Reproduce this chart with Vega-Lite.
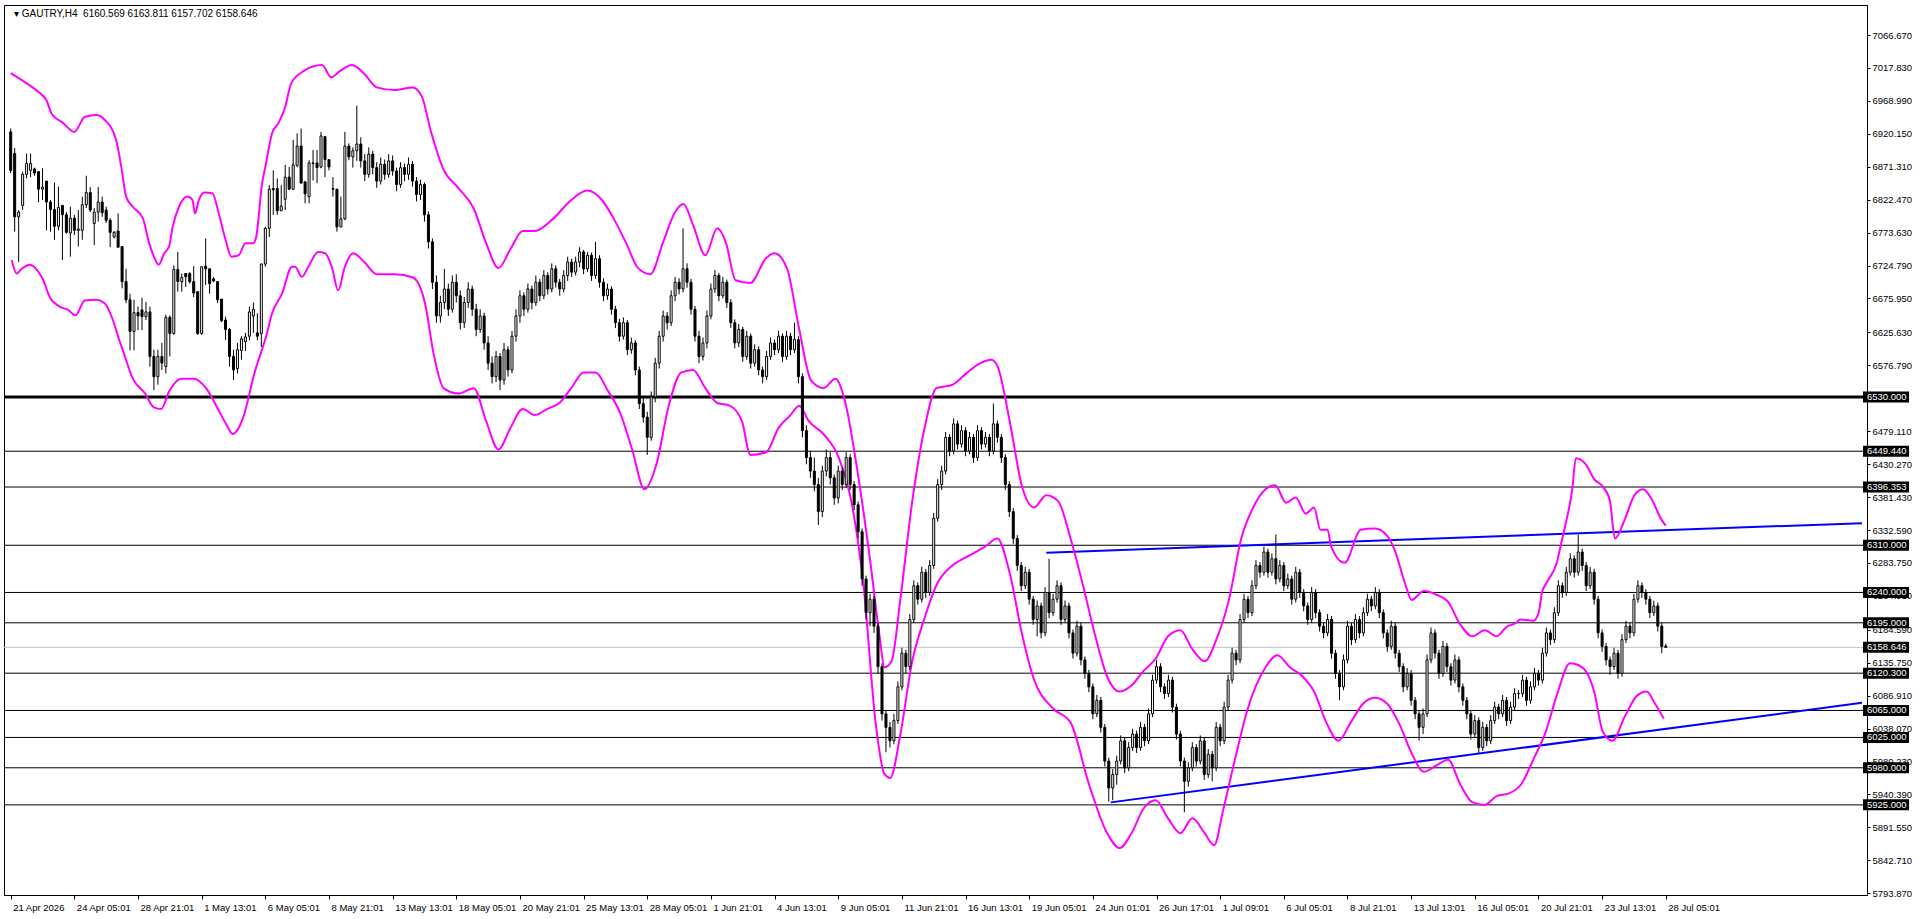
{
"$schema": "https://vega.github.io/schema/vega-lite/v6.json",
"width": 1863, "height": 890,
"autosize": {"type": "none"},
"padding": {"left": 4, "top": 5, "right": 53, "bottom": 24},
"background": "white",
"config": {
  "view": {"stroke": "black", "strokeWidth": 1},
  "axis": {"labelFont": "Liberation Sans", "labelFontSize": 9.5, "labelColor": "black", "tickColor": "black", "domainColor": "black", "grid": false, "labelOverlap": false, "labelFlush": false}
},
"datasets": {
"header": [{"t": "▾ GAUTRY,H4\u00a0\u00a06160.569 6163.811 6157.702 6158.646"}],
"levels": [
{"lv": 6530, "t": "6530.000", "k": "level"},
{"lv": 6449.44, "t": "6449.440", "k": "level"},
{"lv": 6396.353, "t": "6396.353", "k": "level"},
{"lv": 6310, "t": "6310.000", "k": "level"},
{"lv": 6240, "t": "6240.000", "k": "level"},
{"lv": 6195, "t": "6195.000", "k": "level"},
{"lv": 6158.646, "t": "6158.646", "k": "bid"},
{"lv": 6120.3, "t": "6120.300", "k": "level"},
{"lv": 6065, "t": "6065.000", "k": "level"},
{"lv": 6025, "t": "6025.000", "k": "level"},
{"lv": 5980, "t": "5980.000", "k": "level"},
{"lv": 5925, "t": "5925.000", "k": "level"}
],
"trend": [
{"x1": 260.3, "y1": 6299, "x2": 465.325, "y2": 6342.8},
{"x1": 276.5, "y1": 5928.7, "x2": 465.325, "y2": 6076.3}
],
"bands": [
{"b":"u","i":0,"v":7010},{"b":"u","i":4,"v":6995},{"b":"u","i":7,"v":6982},{"b":"u","i":9,"v":6970},{"b":"u","i":10.3,"v":6950},{"b":"u","i":13.2,"v":6936},{"b":"u","i":16,"v":6923},{"b":"u","i":18.6,"v":6945},{"b":"u","i":21.5,"v":6948},{"b":"u","i":23.6,"v":6941},{"b":"u","i":26.5,"v":6911},{"b":"u","i":27.8,"v":6871},{"b":"u","i":29,"v":6827},{"b":"u","i":30.7,"v":6812},{"b":"u","i":33.2,"v":6795},{"b":"u","i":34.8,"v":6758},{"b":"u","i":36,"v":6738},{"b":"u","i":37.2,"v":6726},{"b":"u","i":38.6,"v":6743},{"b":"u","i":39.8,"v":6753},{"b":"u","i":40.7,"v":6782},{"b":"u","i":42.3,"v":6812},{"b":"u","i":44.4,"v":6827},{"b":"u","i":45.7,"v":6822},{"b":"u","i":46.3,"v":6802},{"b":"u","i":47.3,"v":6822},{"b":"u","i":48.6,"v":6833},{"b":"u","i":50.7,"v":6832},{"b":"u","i":52.3,"v":6802},{"b":"u","i":54,"v":6763},{"b":"u","i":55.5,"v":6738},{"b":"u","i":57.3,"v":6740},{"b":"u","i":59,"v":6758},{"b":"u","i":61,"v":6758},{"b":"u","i":61.7,"v":6767},{"b":"u","i":63.2,"v":6847},{"b":"u","i":64,"v":6871},{"b":"u","i":65.7,"v":6921},{"b":"u","i":67.3,"v":6936},{"b":"u","i":69,"v":6960},{"b":"u","i":70.5,"v":6995},{"b":"u","i":73.6,"v":7013},{"b":"u","i":78.2,"v":7022},{"b":"u","i":80.6,"v":7004},{"b":"u","i":82.7,"v":7013},{"b":"u","i":85.8,"v":7022},{"b":"u","i":88.9,"v":7009},{"b":"u","i":92,"v":6989},{"b":"u","i":96.5,"v":6985},{"b":"u","i":101,"v":6989},{"b":"u","i":103.3,"v":6976},{"b":"u","i":105.7,"v":6922},{"b":"u","i":108.8,"v":6867},{"b":"u","i":112.5,"v":6840},{"b":"u","i":116.4,"v":6809},{"b":"u","i":119.5,"v":6758},{"b":"u","i":122.6,"v":6721},{"b":"u","i":125.6,"v":6749},{"b":"u","i":128.7,"v":6776},{"b":"u","i":131.7,"v":6776},{"b":"u","i":136.3,"v":6794},{"b":"u","i":140.9,"v":6822},{"b":"u","i":144.9,"v":6836},{"b":"u","i":148.6,"v":6822},{"b":"u","i":151.6,"v":6794},{"b":"u","i":154.7,"v":6758},{"b":"u","i":157.7,"v":6721},{"b":"u","i":160.8,"v":6712},{"b":"u","i":163.9,"v":6758},{"b":"u","i":166.9,"v":6803},{"b":"u","i":169.1,"v":6816},{"b":"u","i":171.5,"v":6785},{"b":"u","i":174.6,"v":6740},{"b":"u","i":177.6,"v":6780},{"b":"u","i":179.8,"v":6758},{"b":"u","i":182.2,"v":6703},{"b":"u","i":185.9,"v":6699},{"b":"u","i":189.9,"v":6736},{"b":"u","i":192,"v":6743},{"b":"u","i":195.1,"v":6721},{"b":"u","i":198.2,"v":6630},{"b":"u","i":201.2,"v":6554},{"b":"u","i":204.3,"v":6543},{"b":"u","i":207.3,"v":6557},{"b":"u","i":209.8,"v":6521},{"b":"u","i":212.8,"v":6421},{"b":"u","i":215.9,"v":6293},{"b":"u","i":218.4,"v":6175},{"b":"u","i":219.6,"v":6129},{"b":"u","i":221.4,"v":6138},{"b":"u","i":223.6,"v":6229},{"b":"u","i":226.6,"v":6375},{"b":"u","i":229.7,"v":6484},{"b":"u","i":232.7,"v":6543},{"b":"u","i":236.7,"v":6548},{"b":"u","i":240.4,"v":6566},{"b":"u","i":243.4,"v":6579},{"b":"u","i":246.5,"v":6585},{"b":"u","i":248,"v":6576},{"b":"u","i":251.1,"v":6494},{"b":"u","i":254.2,"v":6397},{"b":"u","i":257.2,"v":6366},{"b":"u","i":260.3,"v":6384},{"b":"u","i":263.3,"v":6375},{"b":"u","i":266.4,"v":6320},{"b":"u","i":269.5,"v":6251},{"b":"u","i":272.5,"v":6178},{"b":"u","i":275.6,"v":6115},{"b":"u","i":278.7,"v":6093},{"b":"u","i":281.7,"v":6102},{"b":"u","i":284.8,"v":6124},{"b":"u","i":287.8,"v":6142},{"b":"u","i":290.9,"v":6175},{"b":"u","i":294,"v":6184},{"b":"u","i":297,"v":6156},{"b":"u","i":300.1,"v":6138},{"b":"u","i":303.1,"v":6171},{"b":"u","i":306.2,"v":6229},{"b":"u","i":309.3,"v":6320},{"b":"u","i":312.3,"v":6366},{"b":"u","i":315.4,"v":6393},{"b":"u","i":317.8,"v":6399},{"b":"u","i":320.6,"v":6373},{"b":"u","i":323,"v":6381},{"b":"u","i":325.5,"v":6357},{"b":"u","i":327.6,"v":6366},{"b":"u","i":329.2,"v":6333},{"b":"u","i":331,"v":6333},{"b":"u","i":331.9,"v":6308},{"b":"u","i":335.3,"v":6284},{"b":"u","i":339.3,"v":6333},{"b":"u","i":342.9,"v":6335},{"b":"u","i":346,"v":6324},{"b":"u","i":347.8,"v":6304},{"b":"u","i":350.6,"v":6251},{"b":"u","i":352.1,"v":6229},{"b":"u","i":355.2,"v":6242},{"b":"u","i":358.2,"v":6237},{"b":"u","i":361.3,"v":6226},{"b":"u","i":364.3,"v":6193},{"b":"u","i":367.4,"v":6175},{"b":"u","i":370.5,"v":6184},{"b":"u","i":373.5,"v":6175},{"b":"u","i":376,"v":6189},{"b":"u","i":378.4,"v":6195},{"b":"u","i":379.4,"v":6200},{"b":"u","i":382.7,"v":6198},{"b":"u","i":384,"v":6209},{"b":"u","i":384.9,"v":6240},{"b":"u","i":386.1,"v":6255},{"b":"u","i":388.6,"v":6284},{"b":"u","i":389.8,"v":6315},{"b":"u","i":391,"v":6346},{"b":"u","i":392.5,"v":6393},{"b":"u","i":393.4,"v":6439},{"b":"u","i":395.9,"v":6430},{"b":"u","i":398,"v":6408},{"b":"u","i":400.2,"v":6397},{"b":"u","i":402,"v":6375},{"b":"u","i":403.2,"v":6320},{"b":"u","i":405.7,"v":6348},{"b":"u","i":408.1,"v":6384},{"b":"u","i":410.3,"v":6393},{"b":"u","i":412.4,"v":6379},{"b":"u","i":414.9,"v":6348},{"b":"u","i":416,"v":6339},
{"b":"l","i":0.25,"v":6733},{"b":"l","i":1.5,"v":6713},{"b":"l","i":2.75,"v":6720},{"b":"l","i":4.8,"v":6726},{"b":"l","i":6.9,"v":6716},{"b":"l","i":8.2,"v":6703},{"b":"l","i":9.8,"v":6678},{"b":"l","i":12.3,"v":6664},{"b":"l","i":14.4,"v":6659},{"b":"l","i":16.3,"v":6651},{"b":"l","i":18.6,"v":6673},{"b":"l","i":21.5,"v":6674},{"b":"l","i":23.6,"v":6669},{"b":"l","i":25.7,"v":6644},{"b":"l","i":27.3,"v":6614},{"b":"l","i":28.2,"v":6599},{"b":"l","i":30.7,"v":6557},{"b":"l","i":33.8,"v":6535},{"b":"l","i":35.9,"v":6515},{"b":"l","i":37.8,"v":6512},{"b":"l","i":39.9,"v":6539},{"b":"l","i":42.9,"v":6557},{"b":"l","i":46,"v":6557},{"b":"l","i":49.1,"v":6543},{"b":"l","i":52.1,"v":6512},{"b":"l","i":54.3,"v":6488},{"b":"l","i":55.8,"v":6475},{"b":"l","i":58.3,"v":6497},{"b":"l","i":61.3,"v":6566},{"b":"l","i":64.4,"v":6624},{"b":"l","i":65.7,"v":6654},{"b":"l","i":68.2,"v":6683},{"b":"l","i":70.7,"v":6723},{"b":"l","i":71.5,"v":6723},{"b":"l","i":73.2,"v":6708},{"b":"l","i":74.8,"v":6723},{"b":"l","i":77.3,"v":6745},{"b":"l","i":79,"v":6743},{"b":"l","i":80.7,"v":6723},{"b":"l","i":82.3,"v":6688},{"b":"l","i":84,"v":6723},{"b":"l","i":86.1,"v":6743},{"b":"l","i":88.9,"v":6730},{"b":"l","i":92,"v":6712},{"b":"l","i":96.5,"v":6712},{"b":"l","i":101.1,"v":6707},{"b":"l","i":104.2,"v":6667},{"b":"l","i":106.3,"v":6594},{"b":"l","i":108.8,"v":6543},{"b":"l","i":112.5,"v":6535},{"b":"l","i":116.4,"v":6543},{"b":"l","i":119.5,"v":6494},{"b":"l","i":122.6,"v":6452},{"b":"l","i":125.6,"v":6484},{"b":"l","i":128.7,"v":6512},{"b":"l","i":131.7,"v":6503},{"b":"l","i":134.8,"v":6512},{"b":"l","i":137.9,"v":6521},{"b":"l","i":140.9,"v":6543},{"b":"l","i":144,"v":6566},{"b":"l","i":147,"v":6566},{"b":"l","i":150.1,"v":6539},{"b":"l","i":153.2,"v":6506},{"b":"l","i":156.2,"v":6452},{"b":"l","i":159.3,"v":6393},{"b":"l","i":162.3,"v":6430},{"b":"l","i":165.4,"v":6517},{"b":"l","i":168.5,"v":6566},{"b":"l","i":171.5,"v":6570},{"b":"l","i":174.6,"v":6543},{"b":"l","i":177.6,"v":6521},{"b":"l","i":180.7,"v":6517},{"b":"l","i":183.8,"v":6494},{"b":"l","i":185.9,"v":6444},{"b":"l","i":189.9,"v":6448},{"b":"l","i":193,"v":6484},{"b":"l","i":196,"v":6503},{"b":"l","i":198.2,"v":6517},{"b":"l","i":200.6,"v":6494},{"b":"l","i":204.3,"v":6475},{"b":"l","i":208.2,"v":6439},{"b":"l","i":211.3,"v":6375},{"b":"l","i":214.4,"v":6248},{"b":"l","i":217.4,"v":6047},{"b":"l","i":219.6,"v":5971},{"b":"l","i":221.1,"v":5965},{"b":"l","i":223.6,"v":6029},{"b":"l","i":226.6,"v":6138},{"b":"l","i":229.7,"v":6202},{"b":"l","i":232.7,"v":6251},{"b":"l","i":236.7,"v":6280},{"b":"l","i":240.4,"v":6293},{"b":"l","i":244.9,"v":6308},{"b":"l","i":248,"v":6320},{"b":"l","i":251.1,"v":6269},{"b":"l","i":254.2,"v":6178},{"b":"l","i":257.2,"v":6111},{"b":"l","i":261.8,"v":6069},{"b":"l","i":266.4,"v":6047},{"b":"l","i":271,"v":5956},{"b":"l","i":275.6,"v":5883},{"b":"l","i":278.7,"v":5861},{"b":"l","i":281.7,"v":5883},{"b":"l","i":284.8,"v":5920},{"b":"l","i":287.8,"v":5932},{"b":"l","i":290.9,"v":5905},{"b":"l","i":294,"v":5883},{"b":"l","i":297,"v":5905},{"b":"l","i":300.1,"v":5883},{"b":"l","i":302.5,"v":5865},{"b":"l","i":304.7,"v":5916},{"b":"l","i":307.7,"v":5992},{"b":"l","i":310.8,"v":6065},{"b":"l","i":315.4,"v":6129},{"b":"l","i":318.4,"v":6147},{"b":"l","i":321.5,"v":6129},{"b":"l","i":324.6,"v":6116},{"b":"l","i":327.6,"v":6093},{"b":"l","i":330.7,"v":6047},{"b":"l","i":333.7,"v":6020},{"b":"l","i":336.8,"v":6047},{"b":"l","i":339.9,"v":6075},{"b":"l","i":342.9,"v":6084},{"b":"l","i":346,"v":6075},{"b":"l","i":349.1,"v":6044},{"b":"l","i":352.1,"v":6002},{"b":"l","i":355.2,"v":5974},{"b":"l","i":358.2,"v":5983},{"b":"l","i":361.3,"v":5992},{"b":"l","i":364.3,"v":5956},{"b":"l","i":367.4,"v":5929},{"b":"l","i":370.5,"v":5925},{"b":"l","i":373.5,"v":5938},{"b":"l","i":376.6,"v":5942},{"b":"l","i":379.7,"v":5956},{"b":"l","i":382.7,"v":5992},{"b":"l","i":385.8,"v":6033},{"b":"l","i":388.9,"v":6093},{"b":"l","i":391.9,"v":6135},{"b":"l","i":395,"v":6129},{"b":"l","i":398,"v":6093},{"b":"l","i":400.2,"v":6033},{"b":"l","i":402.6,"v":6020},{"b":"l","i":405.7,"v":6056},{"b":"l","i":408.8,"v":6087},{"b":"l","i":411.2,"v":6093},{"b":"l","i":413.3,"v":6075},{"b":"l","i":415.5,"v":6053}
],
"candles": [
{"i":0,"o":6923,"h":6928,"l":6862,"c":6866},{"i":1,"o":6891,"h":6899,"l":6775,"c":6797},{"i":2,"o":6797,"h":6807,"l":6730,"c":6804},{"i":3,"o":6814,"h":6864,"l":6807,"c":6860},{"i":4,"o":6860,"h":6891,"l":6854,"c":6876},{"i":5,"o":6866,"h":6891,"l":6856,"c":6876},{"i":6,"o":6868,"h":6870,"l":6858,"c":6862},{"i":7,"o":6864,"h":6864,"l":6819,"c":6838},{"i":8,"o":6838,"h":6869,"l":6822,"c":6841},{"i":9,"o":6850,"h":6850,"l":6777,"c":6819},
{"i":10,"o":6819,"h":6822,"l":6775,"c":6808},{"i":11,"o":6808,"h":6848,"l":6763,"c":6783},{"i":12,"o":6783,"h":6842,"l":6777,"c":6811},{"i":13,"o":6814,"h":6814,"l":6733,"c":6800},{"i":14,"o":6800,"h":6804,"l":6772,"c":6774},{"i":15,"o":6773,"h":6812,"l":6738,"c":6795},{"i":16,"o":6795,"h":6800,"l":6770,"c":6777},{"i":17,"o":6777,"h":6807,"l":6753,"c":6779},{"i":18,"o":6777,"h":6827,"l":6763,"c":6815},{"i":19,"o":6815,"h":6858,"l":6810,"c":6833},
{"i":20,"o":6833,"h":6841,"l":6804,"c":6807},{"i":21,"o":6787,"h":6810,"l":6755,"c":6804},{"i":22,"o":6804,"h":6841,"l":6790,"c":6819},{"i":23,"o":6819,"h":6827,"l":6797,"c":6803},{"i":24,"o":6807,"h":6812,"l":6788,"c":6792},{"i":25,"o":6792,"h":6795,"l":6752,"c":6774},{"i":26,"o":6767,"h":6776,"l":6765,"c":6774},{"i":27,"o":6776,"h":6802,"l":6752,"c":6752},{"i":28,"o":6753,"h":6753,"l":6691,"c":6701},{"i":29,"o":6701,"h":6720,"l":6669,"c":6674},
{"i":30,"o":6674,"h":6683,"l":6599,"c":6627},{"i":31,"o":6627,"h":6674,"l":6599,"c":6655},{"i":32,"o":6655,"h":6664,"l":6629,"c":6650},{"i":33,"o":6659,"h":6677,"l":6629,"c":6649},{"i":34,"o":6649,"h":6671,"l":6644,"c":6656},{"i":35,"o":6656,"h":6664,"l":6575,"c":6590},{"i":36,"o":6590,"h":6600,"l":6540,"c":6560},{"i":37,"o":6560,"h":6600,"l":6548,"c":6590},{"i":38,"o":6590,"h":6610,"l":6570,"c":6580},{"i":39,"o":6575,"h":6652,"l":6565,"c":6648},
{"i":40,"o":6648,"h":6651,"l":6590,"c":6624},{"i":41,"o":6624,"h":6725,"l":6622,"c":6719},{"i":42,"o":6719,"h":6745,"l":6686,"c":6701},{"i":43,"o":6701,"h":6713,"l":6686,"c":6707},{"i":44,"o":6713,"h":6713,"l":6693,"c":6708},{"i":45,"o":6713,"h":6715,"l":6698,"c":6701},{"i":46,"o":6701,"h":6724,"l":6678,"c":6684},{"i":47,"o":6686,"h":6686,"l":6622,"c":6624},{"i":48,"o":6624,"h":6723,"l":6622,"c":6723},{"i":49,"o":6724,"h":6765,"l":6696,"c":6720},
{"i":50,"o":6720,"h":6720,"l":6683,"c":6698},{"i":51,"o":6705,"h":6708,"l":6700,"c":6702},{"i":52,"o":6701,"h":6701,"l":6669,"c":6674},{"i":53,"o":6675,"h":6675,"l":6641,"c":6643},{"i":54,"o":6644,"h":6649,"l":6614,"c":6630},{"i":55,"o":6630,"h":6632,"l":6575,"c":6590},{"i":56,"o":6590,"h":6600,"l":6555,"c":6570},{"i":57,"o":6572,"h":6610,"l":6565,"c":6600},{"i":58,"o":6599,"h":6620,"l":6585,"c":6616},{"i":59,"o":6612,"h":6625,"l":6598,"c":6619},
{"i":60,"o":6620,"h":6664,"l":6614,"c":6656},{"i":61,"o":6650,"h":6670,"l":6625,"c":6660},{"i":62,"o":6625,"h":6654,"l":6614,"c":6620},{"i":63,"o":6624,"h":6728,"l":6604,"c":6727},{"i":64,"o":6727,"h":6782,"l":6723,"c":6780},{"i":65,"o":6780,"h":6844,"l":6767,"c":6838},{"i":66,"o":6839,"h":6866,"l":6800,"c":6837},{"i":67,"o":6839,"h":6854,"l":6800,"c":6806},{"i":68,"o":6806,"h":6844,"l":6807,"c":6813},{"i":69,"o":6823,"h":6874,"l":6807,"c":6856},
{"i":70,"o":6856,"h":6871,"l":6837,"c":6838},{"i":71,"o":6838,"h":6911,"l":6837,"c":6874},{"i":72,"o":6873,"h":6921,"l":6871,"c":6902},{"i":73,"o":6902,"h":6928,"l":6847,"c":6847},{"i":74,"o":6849,"h":6849,"l":6817,"c":6831},{"i":75,"o":6827,"h":6881,"l":6817,"c":6877},{"i":76,"o":6876,"h":6896,"l":6851,"c":6877},{"i":77,"o":6877,"h":6896,"l":6847,"c":6870},{"i":78,"o":6871,"h":6923,"l":6869,"c":6917},{"i":79,"o":6916,"h":6916,"l":6856,"c":6882},
{"i":80,"o":6882,"h":6882,"l":6866,"c":6871},{"i":81,"o":6839,"h":6856,"l":6827,"c":6838},{"i":82,"o":6838,"h":6838,"l":6775,"c":6782},{"i":83,"o":6782,"h":6827,"l":6782,"c":6794},{"i":84,"o":6794,"h":6923,"l":6792,"c":6902},{"i":85,"o":6902,"h":6906,"l":6881,"c":6886},{"i":86,"o":6886,"h":6900,"l":6870,"c":6895},{"i":87,"o":6895,"h":6962,"l":6880,"c":6905},{"i":88,"o":6905,"h":6915,"l":6870,"c":6880},{"i":89,"o":6880,"h":6890,"l":6850,"c":6860},
{"i":90,"o":6860,"h":6900,"l":6855,"c":6890},{"i":91,"o":6890,"h":6895,"l":6860,"c":6870},{"i":92,"o":6870,"h":6878,"l":6840,"c":6850},{"i":93,"o":6850,"h":6885,"l":6845,"c":6875},{"i":94,"o":6875,"h":6882,"l":6852,"c":6860},{"i":95,"o":6860,"h":6890,"l":6855,"c":6880},{"i":96,"o":6880,"h":6888,"l":6858,"c":6865},{"i":97,"o":6865,"h":6870,"l":6835,"c":6845},{"i":98,"o":6845,"h":6878,"l":6840,"c":6870},{"i":99,"o":6870,"h":6876,"l":6850,"c":6860},
{"i":100,"o":6860,"h":6885,"l":6852,"c":6875},{"i":101,"o":6875,"h":6880,"l":6842,"c":6850},{"i":102,"o":6850,"h":6856,"l":6820,"c":6830},{"i":103,"o":6830,"h":6852,"l":6822,"c":6845},{"i":104,"o":6845,"h":6848,"l":6790,"c":6800},{"i":105,"o":6800,"h":6805,"l":6750,"c":6760},{"i":106,"o":6760,"h":6765,"l":6690,"c":6700},{"i":107,"o":6700,"h":6710,"l":6640,"c":6650},{"i":108,"o":6650,"h":6680,"l":6640,"c":6670},{"i":109,"o":6670,"h":6720,"l":6660,"c":6690},
{"i":110,"o":6690,"h":6698,"l":6650,"c":6660},{"i":111,"o":6660,"h":6710,"l":6655,"c":6700},{"i":112,"o":6700,"h":6712,"l":6670,"c":6680},{"i":113,"o":6680,"h":6688,"l":6630,"c":6640},{"i":114,"o":6640,"h":6678,"l":6632,"c":6670},{"i":115,"o":6670,"h":6700,"l":6662,"c":6690},{"i":116,"o":6690,"h":6695,"l":6650,"c":6660},{"i":117,"o":6660,"h":6668,"l":6620,"c":6630},{"i":118,"o":6630,"h":6660,"l":6625,"c":6650},{"i":119,"o":6650,"h":6655,"l":6600,"c":6610},
{"i":120,"o":6610,"h":6620,"l":6570,"c":6580},{"i":121,"o":6580,"h":6590,"l":6550,"c":6560},{"i":122,"o":6560,"h":6598,"l":6552,"c":6590},{"i":123,"o":6590,"h":6595,"l":6540,"c":6555},{"i":124,"o":6555,"h":6610,"l":6548,"c":6600},{"i":125,"o":6600,"h":6605,"l":6560,"c":6570},{"i":126,"o":6570,"h":6628,"l":6565,"c":6620},{"i":127,"o":6620,"h":6660,"l":6612,"c":6650},{"i":128,"o":6650,"h":6688,"l":6640,"c":6680},{"i":129,"o":6680,"h":6685,"l":6650,"c":6660},
{"i":130,"o":6660,"h":6698,"l":6655,"c":6690},{"i":131,"o":6690,"h":6695,"l":6660,"c":6670},{"i":132,"o":6670,"h":6710,"l":6665,"c":6700},{"i":133,"o":6700,"h":6705,"l":6672,"c":6680},{"i":134,"o":6680,"h":6718,"l":6675,"c":6710},{"i":135,"o":6710,"h":6715,"l":6682,"c":6690},{"i":136,"o":6690,"h":6728,"l":6685,"c":6720},{"i":137,"o":6720,"h":6725,"l":6692,"c":6700},{"i":138,"o":6700,"h":6705,"l":6680,"c":6690},{"i":139,"o":6690,"h":6718,"l":6685,"c":6710},
{"i":140,"o":6710,"h":6738,"l":6702,"c":6730},{"i":141,"o":6730,"h":6735,"l":6708,"c":6715},{"i":142,"o":6715,"h":6738,"l":6710,"c":6730},{"i":143,"o":6730,"h":6752,"l":6722,"c":6745},{"i":144,"o":6745,"h":6748,"l":6712,"c":6720},{"i":145,"o":6720,"h":6745,"l":6715,"c":6740},{"i":146,"o":6740,"h":6744,"l":6702,"c":6710},{"i":147,"o":6710,"h":6760,"l":6705,"c":6735},{"i":148,"o":6735,"h":6740,"l":6692,"c":6700},{"i":149,"o":6700,"h":6706,"l":6672,"c":6680},
{"i":150,"o":6680,"h":6698,"l":6674,"c":6690},{"i":151,"o":6690,"h":6694,"l":6652,"c":6660},{"i":152,"o":6660,"h":6665,"l":6632,"c":6640},{"i":153,"o":6640,"h":6646,"l":6612,"c":6620},{"i":154,"o":6620,"h":6648,"l":6615,"c":6640},{"i":155,"o":6640,"h":6644,"l":6592,"c":6600},{"i":156,"o":6600,"h":6618,"l":6594,"c":6610},{"i":157,"o":6610,"h":6614,"l":6562,"c":6570},{"i":158,"o":6570,"h":6575,"l":6512,"c":6520},{"i":159,"o":6520,"h":6530,"l":6492,"c":6500},
{"i":160,"o":6500,"h":6508,"l":6444,"c":6470},{"i":161,"o":6470,"h":6538,"l":6465,"c":6530},{"i":162,"o":6530,"h":6588,"l":6522,"c":6580},{"i":163,"o":6580,"h":6628,"l":6572,"c":6620},{"i":164,"o":6620,"h":6658,"l":6612,"c":6650},{"i":165,"o":6650,"h":6656,"l":6630,"c":6640},{"i":166,"o":6640,"h":6688,"l":6635,"c":6680},{"i":167,"o":6680,"h":6708,"l":6672,"c":6700},{"i":168,"o":6700,"h":6706,"l":6682,"c":6690},{"i":169,"o":6690,"h":6780,"l":6685,"c":6720},
{"i":170,"o":6720,"h":6728,"l":6692,"c":6700},{"i":171,"o":6700,"h":6705,"l":6652,"c":6660},{"i":172,"o":6660,"h":6665,"l":6612,"c":6620},{"i":173,"o":6620,"h":6628,"l":6580,"c":6590},{"i":174,"o":6590,"h":6618,"l":6584,"c":6610},{"i":175,"o":6610,"h":6658,"l":6602,"c":6650},{"i":176,"o":6650,"h":6698,"l":6645,"c":6690},{"i":177,"o":6690,"h":6718,"l":6684,"c":6710},{"i":178,"o":6710,"h":6714,"l":6672,"c":6680},{"i":179,"o":6680,"h":6708,"l":6676,"c":6700},
{"i":180,"o":6700,"h":6704,"l":6662,"c":6670},{"i":181,"o":6670,"h":6675,"l":6632,"c":6640},{"i":182,"o":6640,"h":6645,"l":6602,"c":6610},{"i":183,"o":6610,"h":6638,"l":6604,"c":6630},{"i":184,"o":6630,"h":6634,"l":6582,"c":6590},{"i":185,"o":6590,"h":6628,"l":6585,"c":6620},{"i":186,"o":6620,"h":6624,"l":6572,"c":6580},{"i":187,"o":6580,"h":6608,"l":6575,"c":6600},{"i":188,"o":6600,"h":6605,"l":6562,"c":6570},{"i":189,"o":6570,"h":6575,"l":6550,"c":6560},
{"i":190,"o":6560,"h":6598,"l":6555,"c":6590},{"i":191,"o":6590,"h":6618,"l":6585,"c":6610},{"i":192,"o":6610,"h":6615,"l":6592,"c":6600},{"i":193,"o":6600,"h":6628,"l":6595,"c":6620},{"i":194,"o":6620,"h":6624,"l":6582,"c":6590},{"i":195,"o":6590,"h":6628,"l":6585,"c":6620},{"i":196,"o":6620,"h":6625,"l":6592,"c":6600},{"i":197,"o":6600,"h":6640,"l":6595,"c":6615},{"i":198,"o":6615,"h":6620,"l":6550,"c":6560},{"i":199,"o":6560,"h":6565,"l":6470,"c":6480},
{"i":200,"o":6480,"h":6488,"l":6430,"c":6440},{"i":201,"o":6440,"h":6450,"l":6410,"c":6420},{"i":202,"o":6420,"h":6440,"l":6390,"c":6400},{"i":203,"o":6400,"h":6410,"l":6340,"c":6360},{"i":204,"o":6360,"h":6428,"l":6352,"c":6420},{"i":205,"o":6420,"h":6452,"l":6412,"c":6440},{"i":206,"o":6440,"h":6448,"l":6400,"c":6410},{"i":207,"o":6410,"h":6415,"l":6370,"c":6380},{"i":208,"o":6380,"h":6428,"l":6372,"c":6420},{"i":209,"o":6420,"h":6425,"l":6392,"c":6400},
{"i":210,"o":6400,"h":6448,"l":6395,"c":6440},{"i":211,"o":6440,"h":6445,"l":6392,"c":6400},{"i":212,"o":6400,"h":6405,"l":6362,"c":6370},{"i":213,"o":6370,"h":6375,"l":6320,"c":6330},{"i":214,"o":6330,"h":6335,"l":6250,"c":6260},{"i":215,"o":6260,"h":6265,"l":6200,"c":6210},{"i":216,"o":6210,"h":6238,"l":6190,"c":6230},{"i":217,"o":6230,"h":6235,"l":6180,"c":6190},{"i":218,"o":6190,"h":6195,"l":6120,"c":6130},{"i":219,"o":6130,"h":6135,"l":6050,"c":6060},
{"i":220,"o":6060,"h":6065,"l":6003,"c":6040},{"i":221,"o":6040,"h":6048,"l":6010,"c":6020},{"i":222,"o":6020,"h":6060,"l":6015,"c":6050},{"i":223,"o":6050,"h":6108,"l":6045,"c":6100},{"i":224,"o":6100,"h":6158,"l":6095,"c":6150},{"i":225,"o":6150,"h":6155,"l":6120,"c":6130},{"i":226,"o":6130,"h":6208,"l":6125,"c":6200},{"i":227,"o":6200,"h":6258,"l":6195,"c":6250},{"i":228,"o":6250,"h":6255,"l":6222,"c":6230},{"i":229,"o":6230,"h":6278,"l":6225,"c":6270},
{"i":230,"o":6270,"h":6275,"l":6232,"c":6240},{"i":231,"o":6240,"h":6288,"l":6235,"c":6280},{"i":232,"o":6280,"h":6358,"l":6275,"c":6350},{"i":233,"o":6350,"h":6408,"l":6345,"c":6400},{"i":234,"o":6400,"h":6428,"l":6392,"c":6420},{"i":235,"o":6420,"h":6478,"l":6415,"c":6470},{"i":236,"o":6470,"h":6475,"l":6442,"c":6450},{"i":237,"o":6450,"h":6498,"l":6445,"c":6490},{"i":238,"o":6490,"h":6495,"l":6452,"c":6460},{"i":239,"o":6460,"h":6488,"l":6455,"c":6480},
{"i":240,"o":6480,"h":6485,"l":6442,"c":6450},{"i":241,"o":6450,"h":6478,"l":6445,"c":6470},{"i":242,"o":6470,"h":6475,"l":6432,"c":6440},{"i":243,"o":6440,"h":6488,"l":6435,"c":6480},{"i":244,"o":6480,"h":6485,"l":6452,"c":6460},{"i":245,"o":6460,"h":6478,"l":6455,"c":6470},{"i":246,"o":6470,"h":6475,"l":6442,"c":6450},{"i":247,"o":6450,"h":6520,"l":6445,"c":6490},{"i":248,"o":6490,"h":6495,"l":6462,"c":6470},{"i":249,"o":6470,"h":6475,"l":6432,"c":6440},
{"i":250,"o":6440,"h":6445,"l":6392,"c":6400},{"i":251,"o":6400,"h":6405,"l":6352,"c":6360},{"i":252,"o":6360,"h":6365,"l":6312,"c":6320},{"i":253,"o":6320,"h":6325,"l":6272,"c":6280},{"i":254,"o":6280,"h":6285,"l":6242,"c":6250},{"i":255,"o":6250,"h":6278,"l":6245,"c":6270},{"i":256,"o":6270,"h":6275,"l":6222,"c":6230},{"i":257,"o":6230,"h":6235,"l":6192,"c":6200},{"i":258,"o":6200,"h":6228,"l":6175,"c":6220},{"i":259,"o":6220,"h":6225,"l":6172,"c":6180},
{"i":260,"o":6180,"h":6248,"l":6175,"c":6240},{"i":261,"o":6240,"h":6290,"l":6202,"c":6210},{"i":262,"o":6210,"h":6238,"l":6205,"c":6230},{"i":263,"o":6230,"h":6258,"l":6225,"c":6250},{"i":264,"o":6250,"h":6255,"l":6192,"c":6200},{"i":265,"o":6200,"h":6228,"l":6195,"c":6220},{"i":266,"o":6220,"h":6225,"l":6172,"c":6180},{"i":267,"o":6180,"h":6185,"l":6142,"c":6150},{"i":268,"o":6150,"h":6198,"l":6145,"c":6190},{"i":269,"o":6190,"h":6195,"l":6132,"c":6140},
{"i":270,"o":6140,"h":6145,"l":6112,"c":6120},{"i":271,"o":6120,"h":6125,"l":6092,"c":6100},{"i":272,"o":6100,"h":6105,"l":6052,"c":6060},{"i":273,"o":6060,"h":6088,"l":6055,"c":6080},{"i":274,"o":6080,"h":6085,"l":6032,"c":6040},{"i":275,"o":6040,"h":6045,"l":5982,"c":5990},{"i":276,"o":5990,"h":5995,"l":5930,"c":5950},{"i":277,"o":5950,"h":5978,"l":5932,"c":5970},{"i":278,"o":5970,"h":5998,"l":5955,"c":5990},{"i":279,"o":5990,"h":6028,"l":5985,"c":6020},
{"i":280,"o":6020,"h":6025,"l":5972,"c":5980},{"i":281,"o":5980,"h":6018,"l":5975,"c":6010},{"i":282,"o":6010,"h":6038,"l":6005,"c":6030},{"i":283,"o":6030,"h":6035,"l":6002,"c":6010},{"i":284,"o":6010,"h":6048,"l":6005,"c":6040},{"i":285,"o":6040,"h":6045,"l":6012,"c":6020},{"i":286,"o":6020,"h":6068,"l":6015,"c":6060},{"i":287,"o":6060,"h":6118,"l":6055,"c":6110},{"i":288,"o":6110,"h":6140,"l":6105,"c":6130},{"i":289,"o":6130,"h":6135,"l":6092,"c":6100},
{"i":290,"o":6100,"h":6105,"l":6082,"c":6090},{"i":291,"o":6090,"h":6118,"l":6085,"c":6110},{"i":292,"o":6110,"h":6115,"l":6062,"c":6070},{"i":293,"o":6070,"h":6075,"l":6022,"c":6030},{"i":294,"o":6030,"h":6035,"l":5982,"c":5990},{"i":295,"o":5990,"h":5995,"l":5914,"c":5960},{"i":296,"o":5960,"h":5988,"l":5952,"c":5980},{"i":297,"o":5980,"h":6018,"l":5975,"c":6010},{"i":298,"o":6010,"h":6015,"l":5982,"c":5990},{"i":299,"o":5990,"h":6028,"l":5985,"c":6020},
{"i":300,"o":6020,"h":6025,"l":5962,"c":5970},{"i":301,"o":5970,"h":6008,"l":5965,"c":6000},{"i":302,"o":6000,"h":6005,"l":5960,"c":5980},{"i":303,"o":5980,"h":6048,"l":5975,"c":6040},{"i":304,"o":6040,"h":6045,"l":6012,"c":6020},{"i":305,"o":6020,"h":6078,"l":6015,"c":6070},{"i":306,"o":6070,"h":6118,"l":6065,"c":6110},{"i":307,"o":6110,"h":6158,"l":6105,"c":6150},{"i":308,"o":6150,"h":6155,"l":6132,"c":6140},{"i":309,"o":6140,"h":6208,"l":6135,"c":6200},
{"i":310,"o":6200,"h":6238,"l":6195,"c":6230},{"i":311,"o":6230,"h":6235,"l":6202,"c":6210},{"i":312,"o":6210,"h":6258,"l":6205,"c":6250},{"i":313,"o":6250,"h":6288,"l":6245,"c":6280},{"i":314,"o":6280,"h":6285,"l":6262,"c":6270},{"i":315,"o":6270,"h":6308,"l":6265,"c":6300},{"i":316,"o":6300,"h":6305,"l":6262,"c":6270},{"i":317,"o":6270,"h":6298,"l":6265,"c":6290},{"i":318,"o":6290,"h":6326,"l":6252,"c":6260},{"i":319,"o":6260,"h":6288,"l":6255,"c":6280},
{"i":320,"o":6280,"h":6285,"l":6242,"c":6250},{"i":321,"o":6250,"h":6268,"l":6245,"c":6260},{"i":322,"o":6260,"h":6265,"l":6222,"c":6230},{"i":323,"o":6230,"h":6278,"l":6225,"c":6270},{"i":324,"o":6270,"h":6275,"l":6232,"c":6240},{"i":325,"o":6240,"h":6245,"l":6212,"c":6220},{"i":326,"o":6220,"h":6225,"l":6192,"c":6200},{"i":327,"o":6200,"h":6248,"l":6195,"c":6240},{"i":328,"o":6240,"h":6245,"l":6202,"c":6210},{"i":329,"o":6210,"h":6215,"l":6182,"c":6190},
{"i":330,"o":6190,"h":6195,"l":6172,"c":6180},{"i":331,"o":6180,"h":6208,"l":6175,"c":6200},{"i":332,"o":6200,"h":6205,"l":6142,"c":6150},{"i":333,"o":6150,"h":6155,"l":6112,"c":6120},{"i":334,"o":6120,"h":6125,"l":6080,"c":6100},{"i":335,"o":6100,"h":6148,"l":6095,"c":6140},{"i":336,"o":6140,"h":6198,"l":6135,"c":6190},{"i":337,"o":6190,"h":6195,"l":6162,"c":6170},{"i":338,"o":6170,"h":6208,"l":6165,"c":6200},{"i":339,"o":6200,"h":6205,"l":6172,"c":6180},
{"i":340,"o":6180,"h":6218,"l":6175,"c":6210},{"i":341,"o":6210,"h":6238,"l":6205,"c":6230},{"i":342,"o":6230,"h":6235,"l":6212,"c":6220},{"i":343,"o":6220,"h":6248,"l":6215,"c":6240},{"i":344,"o":6240,"h":6245,"l":6202,"c":6210},{"i":345,"o":6210,"h":6215,"l":6172,"c":6180},{"i":346,"o":6180,"h":6185,"l":6152,"c":6160},{"i":347,"o":6160,"h":6198,"l":6155,"c":6190},{"i":348,"o":6190,"h":6195,"l":6142,"c":6150},{"i":349,"o":6150,"h":6155,"l":6122,"c":6130},
{"i":350,"o":6130,"h":6135,"l":6092,"c":6100},{"i":351,"o":6100,"h":6128,"l":6095,"c":6120},{"i":352,"o":6120,"h":6125,"l":6072,"c":6080},{"i":353,"o":6080,"h":6085,"l":6052,"c":6060},{"i":354,"o":6060,"h":6065,"l":6020,"c":6040},{"i":355,"o":6040,"h":6068,"l":6030,"c":6060},{"i":356,"o":6060,"h":6148,"l":6055,"c":6140},{"i":357,"o":6140,"h":6188,"l":6135,"c":6180},{"i":358,"o":6180,"h":6185,"l":6142,"c":6150},{"i":359,"o":6150,"h":6155,"l":6112,"c":6120},
{"i":360,"o":6120,"h":6168,"l":6115,"c":6160},{"i":361,"o":6160,"h":6165,"l":6122,"c":6130},{"i":362,"o":6130,"h":6135,"l":6102,"c":6110},{"i":363,"o":6110,"h":6148,"l":6105,"c":6140},{"i":364,"o":6140,"h":6145,"l":6092,"c":6100},{"i":365,"o":6100,"h":6105,"l":6072,"c":6080},{"i":366,"o":6080,"h":6085,"l":6052,"c":6060},{"i":367,"o":6060,"h":6065,"l":6022,"c":6030},{"i":368,"o":6030,"h":6058,"l":6025,"c":6050},{"i":369,"o":6050,"h":6055,"l":6002,"c":6010},
{"i":370,"o":6010,"h":6048,"l":6005,"c":6040},{"i":371,"o":6040,"h":6045,"l":6012,"c":6020},{"i":372,"o":6020,"h":6058,"l":6015,"c":6050},{"i":373,"o":6050,"h":6078,"l":6045,"c":6070},{"i":374,"o":6070,"h":6075,"l":6052,"c":6060},{"i":375,"o":6060,"h":6088,"l":6055,"c":6080},{"i":376,"o":6080,"h":6085,"l":6042,"c":6050},{"i":377,"o":6050,"h":6078,"l":6045,"c":6070},{"i":378,"o":6070,"h":6098,"l":6065,"c":6090},{"i":379,"o":6090,"h":6095,"l":6082,"c":6090},
{"i":380,"o":6090,"h":6118,"l":6085,"c":6110},{"i":381,"o":6110,"h":6115,"l":6072,"c":6080},{"i":382,"o":6080,"h":6108,"l":6075,"c":6100},{"i":383,"o":6100,"h":6128,"l":6095,"c":6120},{"i":384,"o":6120,"h":6125,"l":6102,"c":6110},{"i":385,"o":6110,"h":6158,"l":6105,"c":6150},{"i":386,"o":6150,"h":6188,"l":6145,"c":6180},{"i":387,"o":6180,"h":6185,"l":6162,"c":6170},{"i":388,"o":6170,"h":6218,"l":6165,"c":6210},{"i":389,"o":6210,"h":6258,"l":6205,"c":6250},
{"i":390,"o":6250,"h":6255,"l":6232,"c":6240},{"i":391,"o":6240,"h":6278,"l":6235,"c":6270},{"i":392,"o":6270,"h":6298,"l":6265,"c":6290},{"i":393,"o":6290,"h":6295,"l":6262,"c":6270},{"i":394,"o":6270,"h":6326,"l":6265,"c":6300},{"i":395,"o":6300,"h":6305,"l":6272,"c":6280},{"i":396,"o":6280,"h":6285,"l":6242,"c":6250},{"i":397,"o":6250,"h":6278,"l":6245,"c":6270},{"i":398,"o":6270,"h":6275,"l":6222,"c":6230},{"i":399,"o":6230,"h":6235,"l":6172,"c":6180},
{"i":400,"o":6180,"h":6185,"l":6152,"c":6160},{"i":401,"o":6160,"h":6165,"l":6132,"c":6140},{"i":402,"o":6140,"h":6145,"l":6118,"c":6130},{"i":403,"o":6130,"h":6158,"l":6125,"c":6150},{"i":404,"o":6150,"h":6155,"l":6112,"c":6120},{"i":405,"o":6120,"h":6178,"l":6115,"c":6170},{"i":406,"o":6170,"h":6198,"l":6165,"c":6190},{"i":407,"o":6190,"h":6195,"l":6172,"c":6180},{"i":408,"o":6180,"h":6238,"l":6175,"c":6230},{"i":409,"o":6230,"h":6258,"l":6225,"c":6250},
{"i":410,"o":6250,"h":6255,"l":6232,"c":6240},{"i":411,"o":6240,"h":6245,"l":6222,"c":6230},{"i":412,"o":6230,"h":6235,"l":6202,"c":6210},{"i":413,"o":6210,"h":6228,"l":6205,"c":6220},{"i":414,"o":6220,"h":6225,"l":6182,"c":6190},{"i":415,"o":6190,"h":6195,"l":6150,"c":6160},{"i":416,"o":6160.569,"h":6163.811,"l":6157.702,"c":6158.646}
]
},
"layer": [
{
 "data": {"name": "levels"},
 "mark": {"type": "rule"},
 "encoding": {
  "y": {"field": "lv", "type": "quantitative", "scale": {"domain": [5791.35, 7111.16], "nice": false, "zero": false},
   "axis": {"orient": "right", "title": null, "values": [7066.67,7017.83,6968.99,6920.15,6871.31,6822.47,6773.63,6724.79,6675.95,6625.63,6576.79,6479.11,6430.27,6381.43,6332.59,6283.75,6234.91,6184.59,6135.75,6086.91,6038.07,5989.23,5940.39,5891.55,5842.71,5793.87],
    "tickCount": 60, "format": ".3f", "tickSize": 3, "labelPadding": 2, "labelAlign": "left", "labelBaseline": "middle", "labelOverlap": false, "labelFlush": false}},
  "color": {"condition": {"test": "datum.k == 'bid'", "value": "#C0C0C0"}, "value": "black"},
  "strokeWidth": {"condition": {"test": "datum.lv == 6530", "value": 3}, "value": 1}
 }
},
{
 "data": {"name": "trend"},
 "mark": {"type": "rule", "color": "#0000FF", "strokeWidth": 2, "clip": true},
 "encoding": {
  "x": {"field": "x1", "type": "quantitative", "scale": {"domain": [-0.425, 465.325], "nice": false, "zero": false},
   "axis": {"orient": "bottom", "title": null, "values": [0,16,32,48,64,80,96,112,128,144,160,176,192,208,224,240,256,272,288,304,320,336,352,368,384,400,416],
    "tickCount": 60,
    "labelExpr": "datum.value == 0 ? '21 Apr 2026' : datum.value == 16 ? '24 Apr 05:01' : datum.value == 32 ? '28 Apr 21:01' : datum.value == 48 ? '1 May 13:01' : datum.value == 64 ? '6 May 05:01' : datum.value == 80 ? '8 May 21:01' : datum.value == 96 ? '13 May 13:01' : datum.value == 112 ? '18 May 05:01' : datum.value == 128 ? '20 May 21:01' : datum.value == 144 ? '25 May 13:01' : datum.value == 160 ? '28 May 05:01' : datum.value == 176 ? '1 Jun 21:01' : datum.value == 192 ? '4 Jun 13:01' : datum.value == 208 ? '9 Jun 05:01' : datum.value == 224 ? '11 Jun 21:01' : datum.value == 240 ? '16 Jun 13:01' : datum.value == 256 ? '19 Jun 05:01' : datum.value == 272 ? '24 Jun 01:01' : datum.value == 288 ? '26 Jun 17:01' : datum.value == 304 ? '1 Jul 09:01' : datum.value == 320 ? '6 Jul 05:01' : datum.value == 336 ? '8 Jul 21:01' : datum.value == 352 ? '13 Jul 13:01' : datum.value == 368 ? '16 Jul 05:01' : datum.value == 384 ? '20 Jul 21:01' : datum.value == 400 ? '23 Jul 13:01' : '28 Jul 05:01'",
    "tickSize": 4, "labelAlign": "left", "labelBaseline": "top", "labelPadding": 3, "labelOffset": 2, "labelOverlap": false, "labelFlush": false}},
  "x2": {"field": "x2"},
  "y": {"field": "y1", "type": "quantitative", "axis": {"orient": "right", "labelOverlap": false, "title": null, "tickCount": 60}},
  "y2": {"field": "y2"}
 }
},
{
 "data": {"name": "bands"},
 "mark": {"type": "line", "color": "#FF00FF", "strokeWidth": 2, "interpolate": "monotone", "clip": true},
 "encoding": {
  "x": {"field": "i", "type": "quantitative", "axis": {"orient": "bottom", "labelOverlap": false, "title": null, "tickCount": 60}},
  "y": {"field": "v", "type": "quantitative", "axis": {"orient": "right", "labelOverlap": false, "title": null, "tickCount": 60}},
  "detail": {"field": "b"}
 }
},
{
 "data": {"name": "candles"},
 "mark": {"type": "rule", "color": "black", "strokeWidth": 1},
 "encoding": {
  "x": {"field": "i", "type": "quantitative", "axis": {"orient": "bottom", "labelOverlap": false, "title": null, "tickCount": 60}},
  "y": {"field": "l", "type": "quantitative", "axis": {"orient": "right", "labelOverlap": false, "title": null, "tickCount": 60}},
  "y2": {"field": "h"}
 }
},
{
 "data": {"name": "candles"},
 "mark": {"type": "bar", "size": 2, "stroke": "black", "strokeWidth": 1},
 "encoding": {
  "x": {"field": "i", "type": "quantitative", "axis": {"orient": "bottom", "labelOverlap": false, "title": null, "tickCount": 60}},
  "y": {"field": "o", "type": "quantitative", "axis": {"orient": "right", "labelOverlap": false, "title": null, "tickCount": 60}},
  "y2": {"field": "c"},
  "fill": {"condition": {"test": "datum.c >= datum.o", "value": "white"}, "value": "black"}
 }
},
{
 "data": {"name": "levels"},
 "mark": {"type": "point", "shape": "M0.18,-1H8.55V1H0.18Z", "size": 121, "filled": true, "color": "black", "opacity": 1, "clip": false},
 "encoding": {
  "x": {"datum": 465.325, "type": "quantitative", "axis": {"orient": "bottom", "labelOverlap": false, "title": null, "tickCount": 60}},
  "y": {"field": "lv", "type": "quantitative", "axis": {"orient": "right", "labelOverlap": false, "title": null, "tickCount": 60}}
 }
},
{
 "data": {"name": "levels"},
 "mark": {"type": "text", "align": "left", "baseline": "middle", "dx": 5, "color": "white", "font": "Liberation Sans", "fontSize": 9.5},
 "encoding": {
  "x": {"datum": 465.325, "type": "quantitative", "axis": {"orient": "bottom", "labelOverlap": false, "title": null, "tickCount": 60}},
  "y": {"field": "lv", "type": "quantitative", "axis": {"orient": "right", "labelOverlap": false, "title": null, "tickCount": 60}},
  "text": {"field": "t"}
 }
},
{
 "data": {"name": "header"},
 "mark": {"type": "text", "align": "left", "baseline": "alphabetic", "dx": 5, "dy": 12, "color": "black", "font": "Liberation Sans", "fontSize": 10},
 "encoding": {
  "x": {"datum": -0.425, "type": "quantitative", "axis": {"orient": "bottom", "labelOverlap": false, "title": null, "tickCount": 60}},
  "y": {"datum": 7111.16, "type": "quantitative", "axis": {"orient": "right", "labelOverlap": false, "title": null, "tickCount": 60}},
  "text": {"field": "t"}
 }
}
]
}
